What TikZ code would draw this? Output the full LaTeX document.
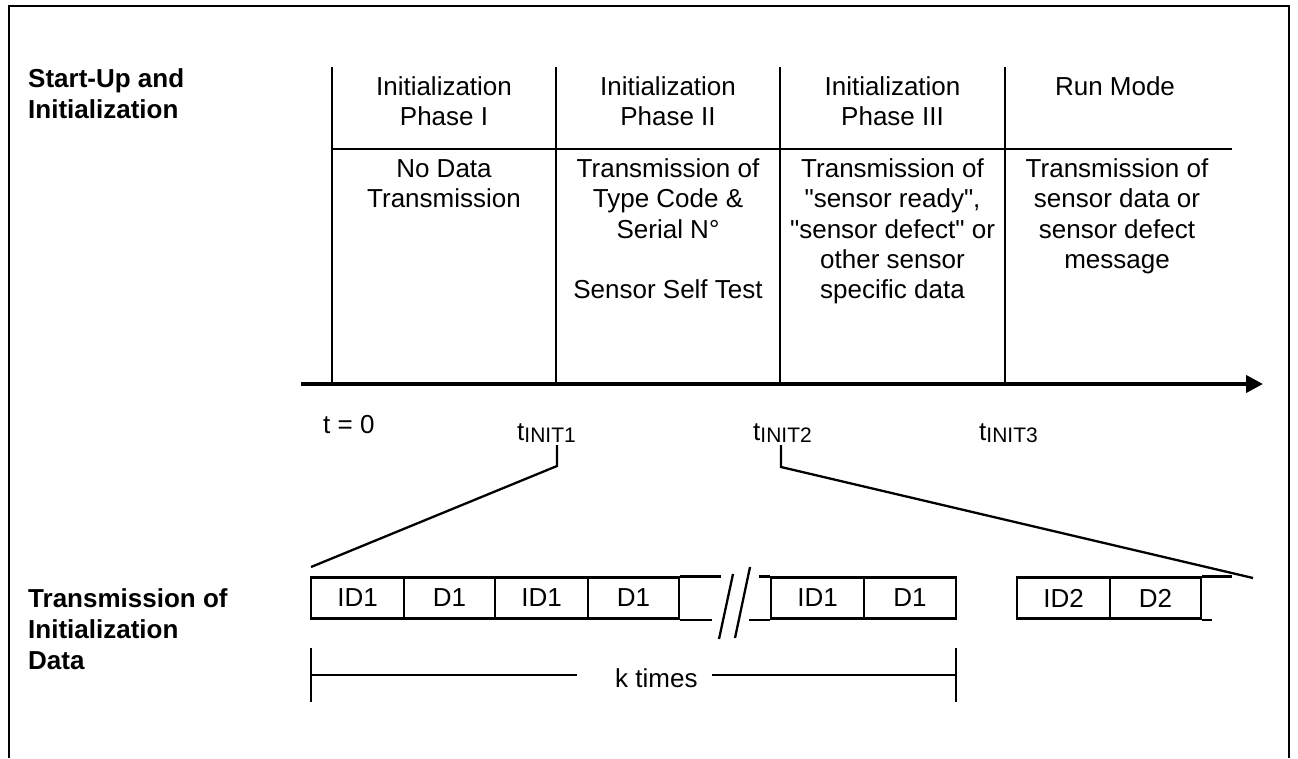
\documentclass[tikz,border=0pt]{standalone}
\usepackage{fontspec}
\setmainfont{Liberation Sans}[Ligatures=TeXOff]
\usetikzlibrary{arrows.meta}

\newcommand{\cellfont}{\fontsize{26}{30.3}\selectfont}
\newcommand{\sidefont}{\fontsize{26}{31}\selectfont\bfseries}
\newcommand{\stack}[1]{\begin{tabular}[t]{@{}c@{}}#1\end{tabular}}
\newcommand{\lstack}[1]{\begin{tabular}[t]{@{}l@{}}#1\end{tabular}}
\newcommand{\tsub}[1]{t\raisebox{-2pt}{\fontsize{21}{21}\selectfont #1}}

\begin{document}
\begin{tikzpicture}[x=1pt, y=-1pt,
  rule/.style={line width=2.3pt},
  frame/.style={line width=2.7pt},
  axis/.style={line width=4pt, -{Triangle[length=17pt, width=17pt]}},
  cell/.style={anchor=base, inner sep=0pt, font=\cellfont},
  side/.style={anchor=base west, inner sep=0pt, font=\sidefont},
  tick/.style={anchor=base west, inner sep=0pt, font=\cellfont},
  pkt/.style={draw, line width=2.3pt, minimum height=41pt,
              inner sep=0pt, font=\cellfont}]
\useasboundingbox (0,0) rectangle (1298,758);

% outer frame (open at the bottom)
\draw[frame] (9,758) -- (9,6) -- (1289,6) -- (1289,758);

% side labels
\node[side] (lstart) at (28,87) {\lstack{Start-Up and\\Initialization}};
\node[side] (ltrans) at (28,607) {\lstack{Transmission of\\Initialization\\Data}};

% phase columns
\foreach \x in {332,556,780,1005} \draw[rule] (\x,67) -- (\x,384);
\draw[rule] (332,149) -- (1232,149);

\node[cell] (h1) at (444,95) {\stack{Initialization\\Phase I}};
\node[cell] (h2) at (668,95) {\stack{Initialization\\Phase II}};
\node[cell] (h3) at (892.5,95) {\stack{Initialization\\Phase III}};
\node[cell] (h4) at (1115,95) {\stack{Run Mode}};

\node[cell] (b1) at (444,177.5) {\stack{No Data\\Transmission}};
\node[cell] (b2) at (668,177.5) {\stack{Transmission of\\Type Code \&\\Serial N°\\ \\Sensor Self Test}};
\node[cell] (b3) at (892.5,177.5) {\stack{Transmission of\\"sensor ready",\\"sensor defect" or\\other sensor\\specific data}};
\node[cell] (b4) at (1117,177.5) {\stack{Transmission of\\sensor data or\\sensor defect\\message}};

% time axis
\coordinate (axstart) at (301,384);
\coordinate (axend) at (1263,384);
\draw[axis] (axstart) -- (axend);

\node[tick] (t0) at (323,433) {t = 0};
\node[tick] (t1) at (517,440) {\tsub{INIT1}};
\node[tick] (t2) at (753,440) {\tsub{INIT2}};
\node[tick] (t3) at (979,440) {\tsub{INIT3}};

% zoom brackets from the time marks to the data row
\coordinate (z1a) at (557,445);
\coordinate (z1b) at (557,466);
\coordinate (z1c) at (311,567);
\coordinate (z2a) at (781,445);
\coordinate (z2b) at (781,467);
\coordinate (z2c) at (1253,578);
\draw[rule] (z1a) -- (z1b) -- (z1c);
\draw[rule] (z2a) -- (z2b) -- (z2c);

% data frames, first group
\node[pkt, minimum width=93pt] (p1) at (357.5,598) {ID1};
\node[pkt, minimum width=91pt] (p2) at (449.5,598) {D1};
\node[pkt, minimum width=93pt] (p3) at (541.5,598) {ID1};
\node[pkt, minimum width=91pt] (p4) at (633.5,598) {D1};
\draw[rule] (p4.north east) -- ++(41,0);
\draw[rule] (p4.south east) -- ++(32,0);

% break marks
\coordinate (s1a) at (733,574);
\coordinate (s1b) at (719,639);
\coordinate (s2a) at (750,567);
\coordinate (s2b) at (735,638);
\draw[rule] (s1a) -- (s1b);
\draw[rule] (s2a) -- (s2b);

% data frames, last repetition
\node[pkt, minimum width=93pt] (p5) at (817.5,598) {ID1};
\node[pkt, minimum width=92pt] (p6) at (910,598) {D1};
\draw[rule] (p5.north west) -- ++(-11,0);
\draw[rule] (p5.south west) -- ++(-21,0);

% data frames, next phase
\node[pkt, minimum width=93pt] (p7) at (1063.5,598) {ID2};
\node[pkt, minimum width=91pt] (p8) at (1155.5,598) {D2};
\draw[rule] (p8.north east) -- ++(30,0);
\draw[rule] (p8.south east) -- ++(10,0);

% repetition span
\coordinate (kl1) at (311,648);
\coordinate (kl2) at (311,702);
\coordinate (kr1) at (956,648);
\coordinate (kr2) at (956,702);
\draw[rule] (kl1) -- (kl2);
\draw[rule] (kr1) -- (kr2);
\node[cell, anchor=base west] (ktimes) at (615,687) {k times};
\coordinate (kml) at (311,675);
\coordinate (kmr) at (956,675);
\coordinate (kgl) at (577,675);
\coordinate (kgr) at (712,675);
\draw[rule] (kml) -- (kgl);
\draw[rule] (kgr) -- (kmr);
\end{tikzpicture}
\end{document}
